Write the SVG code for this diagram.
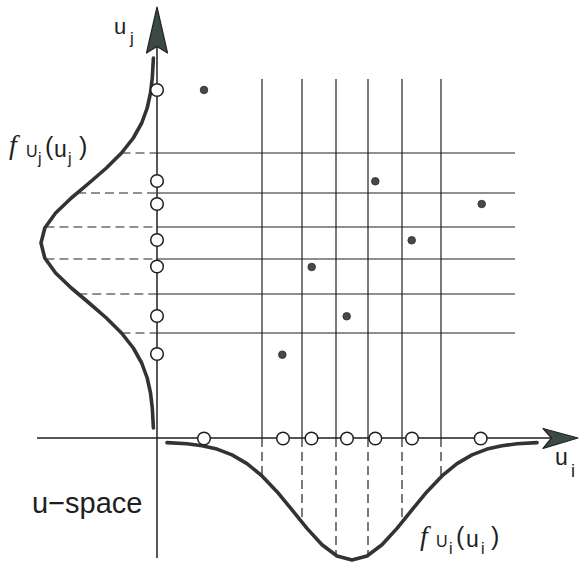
<svg xmlns="http://www.w3.org/2000/svg" width="580" height="563" viewBox="0 0 580 563">
<style>
.grid{stroke:#222;stroke-width:1.2;fill:none}
.dash{stroke:#222;stroke-width:1.2;fill:none;stroke-dasharray:9 5}
.axis{stroke:#1e1e1e;stroke-width:1.5;fill:none}
.pdf{stroke:#2f3533;stroke-width:3.6;fill:none;stroke-linecap:round;stroke-linejoin:round}
.arrow{fill:#3b4a46;stroke:#1e2422;stroke-width:1.2;stroke-linejoin:round}
.open{fill:#fff;stroke:#1e1e1e;stroke-width:1.5}
.dot{fill:#454a48;stroke:#2a2a2a;stroke-width:0.8}
.t{font-family:"Liberation Sans",Arial,sans-serif;fill:#1e1e1e}
.f{font-family:"Liberation Serif","Times New Roman",serif;font-style:italic;fill:#1e1e1e}
</style>
<rect width="580" height="563" fill="#fff"/>
<g id="grid">
<path class="grid" d="M157 153H515M157 193H515M157 227H515M157 259H515M157 294H515M157 333H515"/>
<path class="grid" d="M262 79V438M302 79V438M336 79V438M368 79V438M402 79V438M441 79V438"/>
</g>
<g id="projections">
<path class="dash" d="M121.5 153H157M77 193H157M45.4 227H157M45.4 259H157M78.3 294H157M121.5 333H157"/>
<path class="dash" d="M262 438V475.9M302 438V522.3M336 438V555.4M368 438V555.4M402 438V522.3M441 438V476.9"/>
</g>
<g id="axes">
<path class="axis" d="M157 46V558"/>
<path class="axis" d="M37 438H551"/>
<polygon class="arrow" points="157,7 167.5,53 157,46.5 146.5,53"/>
<polygon class="arrow" points="578,438 543,428.5 551.5,438 543,448.5"/>
</g>
<g id="pdf-uj">
<polyline class="pdf" points="153.4,58 152.3,78 150.5,93 147.2,108 141.7,123 133.3,138 121.5,153 106.4,168 89.1,183 71.3,198 55.6,213 44.8,228 41,243 44.8,258 55.6,273 71.3,288 89.1,303 106.4,318 121.5,333 133.3,348 141.7,363 147.2,378 150.5,393 152.3,408 153.4,428"/>
</g>
<g id="pdf-ui">
<polyline class="pdf" points="167,442.6 187,443.8 202,445.7 217,449.1 232,454.9 247,463.6 262,475.9 277,491.7 292,509.8 307,528.4 322,544.8 337,556 352,560 367,556 382,544.8 397,528.4 412,509.8 427,491.7 442,475.9 457,463.6 472,454.9 487,449.1 502,445.7 517,443.8 537,442.6"/>
</g>
<g id="samples-uj">
<circle class="open" cx="157" cy="90" r="6.3"/>
<circle class="open" cx="157" cy="181" r="6.3"/>
<circle class="open" cx="157" cy="204" r="6.3"/>
<circle class="open" cx="157" cy="240" r="6.3"/>
<circle class="open" cx="157" cy="266.5" r="6.3"/>
<circle class="open" cx="157" cy="316" r="6.3"/>
<circle class="open" cx="157" cy="354" r="6.3"/>
</g>
<g id="samples-ui">
<circle class="open" cx="204" cy="438.5" r="6.3"/>
<circle class="open" cx="283" cy="438.5" r="6.3"/>
<circle class="open" cx="311.5" cy="438.5" r="6.3"/>
<circle class="open" cx="347" cy="438.5" r="6.3"/>
<circle class="open" cx="375.3" cy="438.5" r="6.3"/>
<circle class="open" cx="412" cy="438.5" r="6.3"/>
<circle class="open" cx="480.7" cy="438.5" r="6.3"/>
</g>
<g id="points">
<circle class="dot" cx="204" cy="90" r="3.8"/>
<circle class="dot" cx="375.3" cy="181.3" r="3.8"/>
<circle class="dot" cx="481.7" cy="204" r="3.8"/>
<circle class="dot" cx="411.7" cy="240.3" r="3.8"/>
<circle class="dot" cx="311.7" cy="267" r="3.8"/>
<circle class="dot" cx="346.7" cy="316.3" r="3.8"/>
<circle class="dot" cx="282.3" cy="354.7" r="3.8"/>
</g>
<g id="labels">
<text class="t"><tspan x="114" y="34" font-size="22">u</tspan><tspan x="130" y="44" font-size="17">j</tspan></text>
<text class="t"><tspan x="555" y="465" font-size="23">u</tspan><tspan x="571" y="477" font-size="18">i</tspan></text>
<text class="t" x="32" y="513" font-size="29">u−space</text>
<text class="t"><tspan class="f" x="9" y="154" font-size="28">f</tspan><tspan x="26" y="157" font-size="16">U</tspan><tspan x="38" y="164" font-size="16">j</tspan><tspan x="45" y="155" font-size="25">(</tspan><tspan x="54" y="157" font-size="23">u</tspan><tspan x="68" y="164" font-size="16">j</tspan><tspan x="79" y="155" font-size="25">)</tspan></text>
<text class="t"><tspan class="f" x="420" y="545" font-size="28">f</tspan><tspan x="436" y="547" font-size="16">U</tspan><tspan x="449" y="554" font-size="16">i</tspan><tspan x="456" y="545" font-size="25">(</tspan><tspan x="466" y="547" font-size="23">u</tspan><tspan x="481" y="554" font-size="16">i</tspan><tspan x="491" y="545" font-size="25">)</tspan></text>
</g>
</svg>
